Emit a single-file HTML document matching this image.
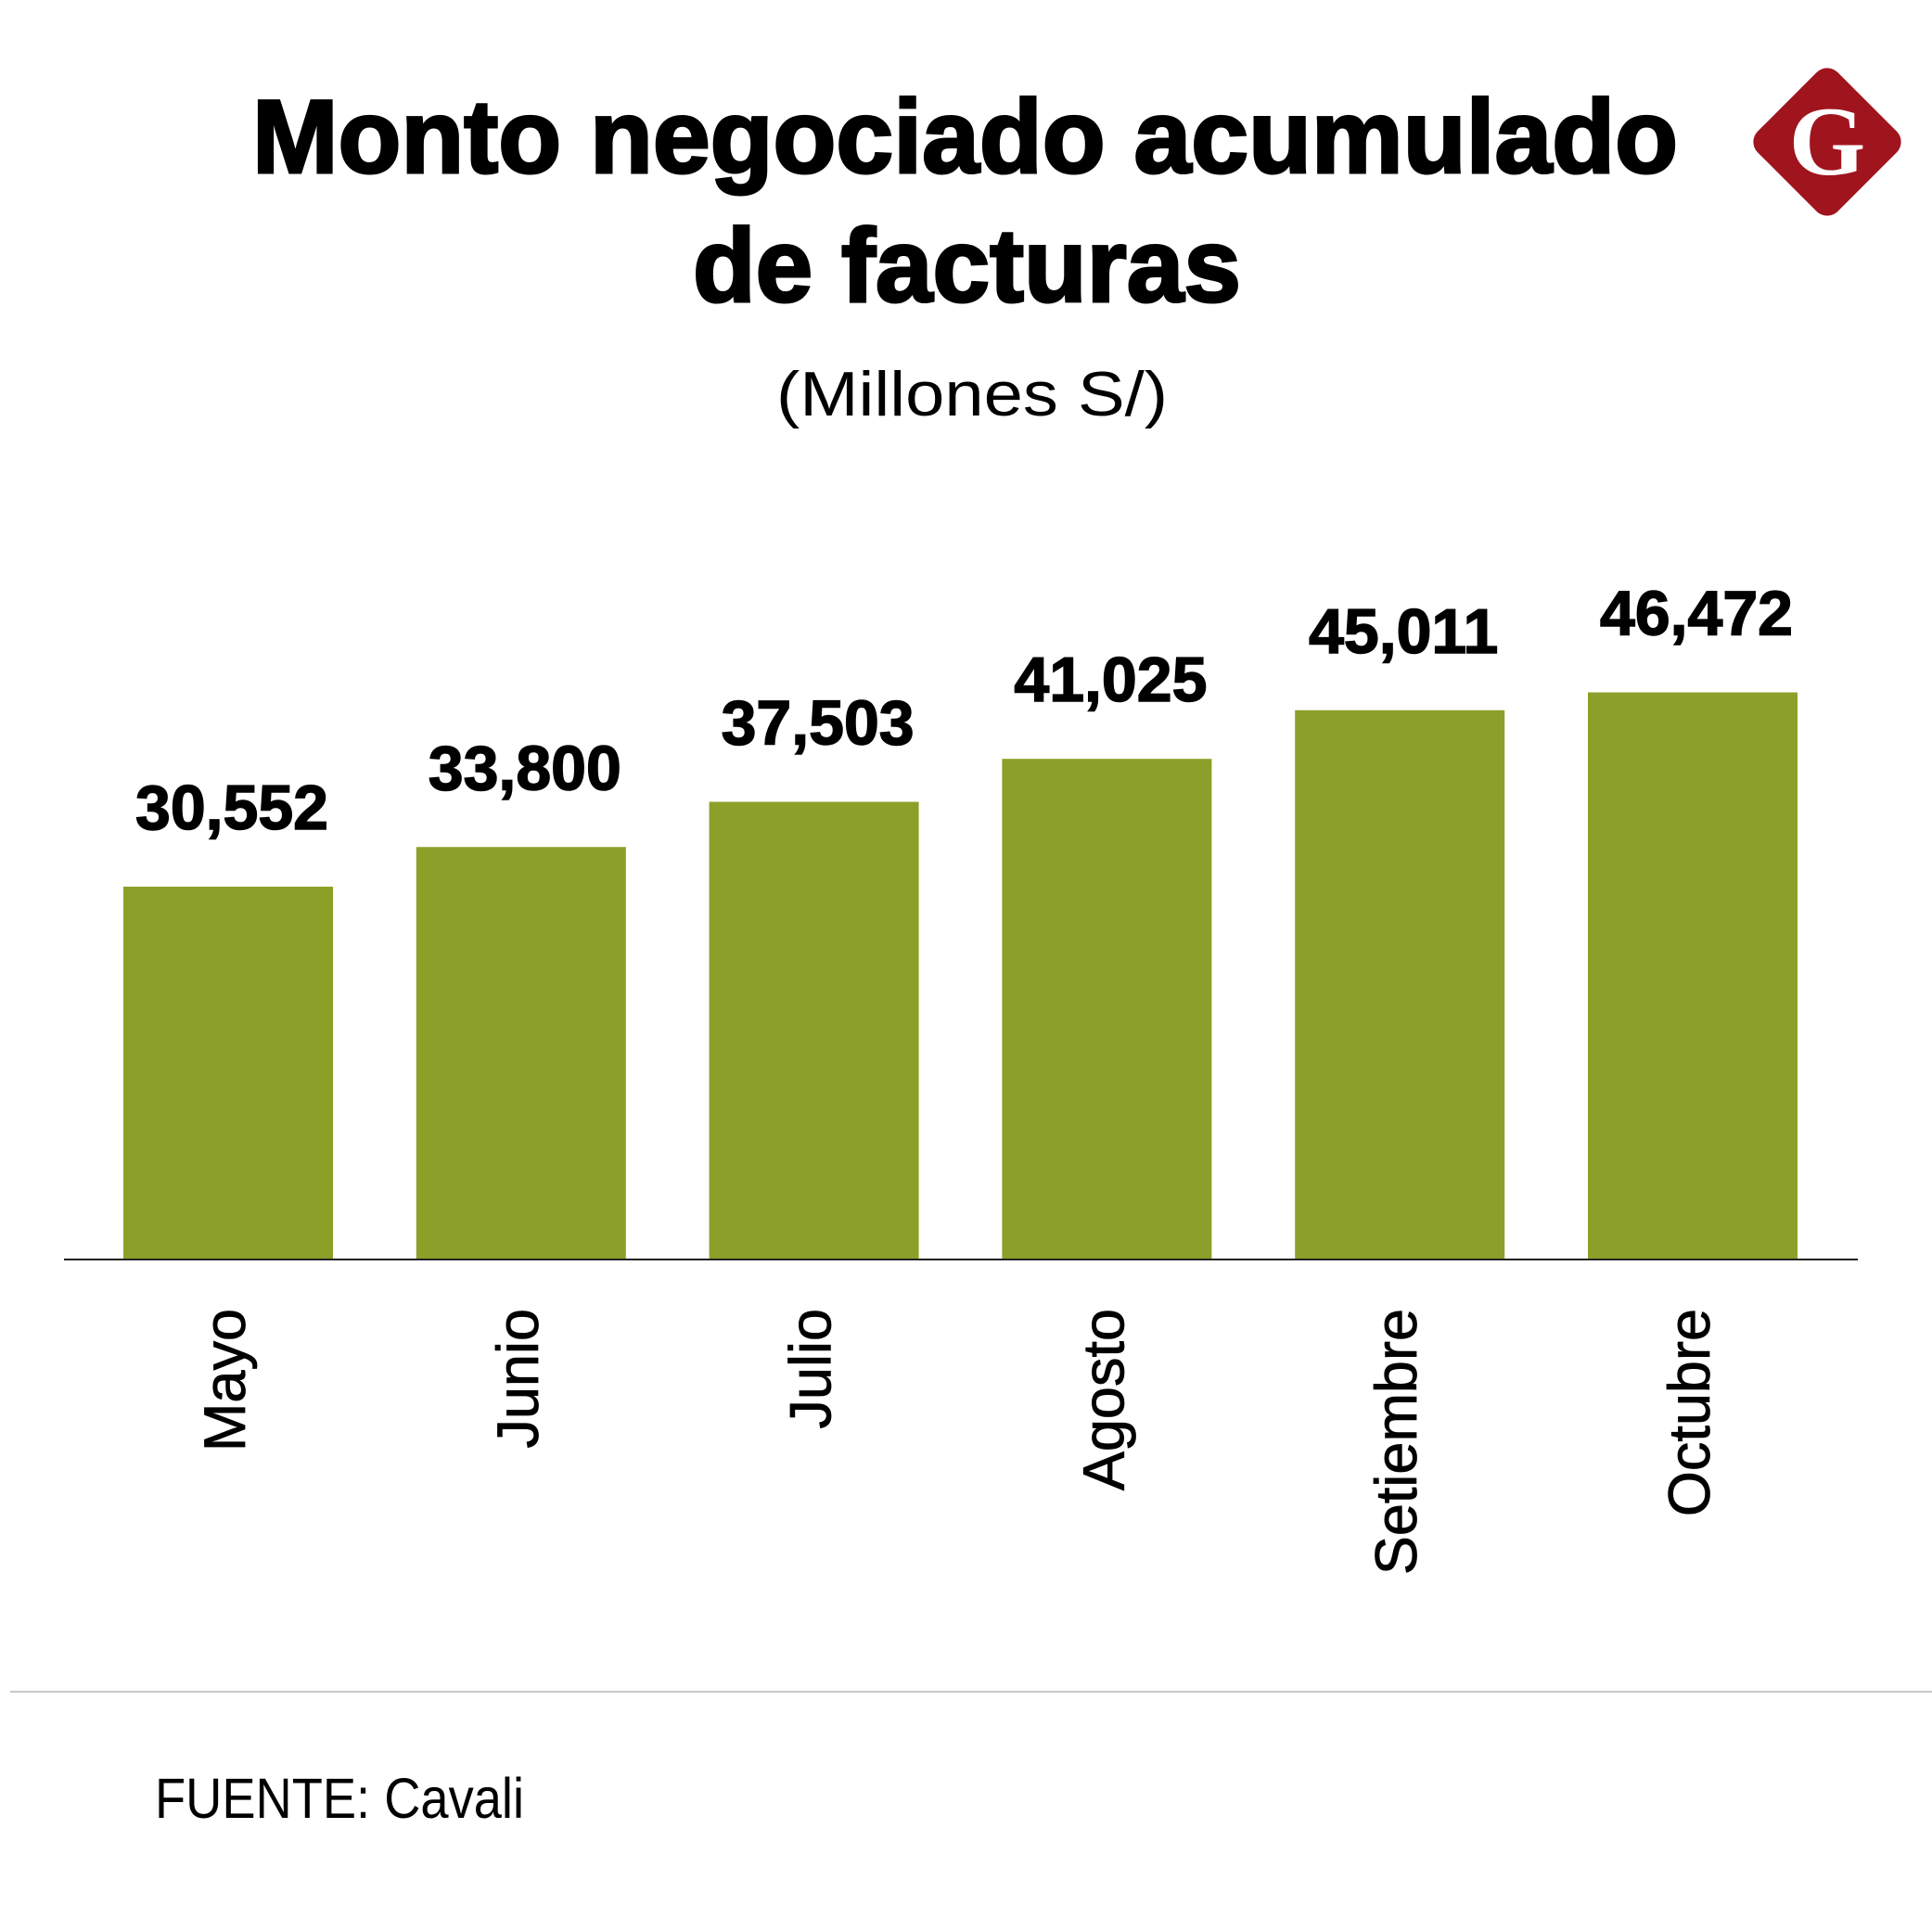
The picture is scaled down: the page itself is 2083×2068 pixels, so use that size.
<!DOCTYPE html>
<html><head><meta charset="utf-8"><style>
html,body{margin:0;padding:0;background:#fff;}
svg{display:block;}
</style></head><body>
<svg id="chart" width="2083" height="2068" viewBox="0 0 2083 2068" xmlns="http://www.w3.org/2000/svg" font-family="'Liberation Sans', sans-serif">
<rect width="2083" height="2068" fill="#fff"/>
<text x="272" y="186" font-size="112" font-weight="900" fill="#000" stroke="#000" stroke-width="3" textLength="1537" lengthAdjust="spacingAndGlyphs">Monto negociado acumulado</text>
<text x="747" y="325" font-size="112" font-weight="900" fill="#000" stroke="#000" stroke-width="3" textLength="591" lengthAdjust="spacingAndGlyphs">de facturas</text>
<text x="837" y="448" font-size="68" fill="#000" textLength="422" lengthAdjust="spacingAndGlyphs">(Millones S/)</text>
<g>
<rect x="1909" y="92" width="122" height="122" rx="16" fill="#a0141e" transform="rotate(45 1970 153)"/>
<text x="1970" y="188" text-anchor="middle" font-family="'Liberation Serif', serif" font-size="106" font-weight="bold" fill="#fff">G</text>
</g>
<g id="bars"></g>
<line x1="69" y1="1358" x2="2003" y2="1358" stroke="#222" stroke-width="2"/>
<line x1="11" y1="1824" x2="2083" y2="1824" stroke="#c8c8c8" stroke-width="2"/>
<text x="167" y="1960" font-size="61" fill="#000" textLength="398" lengthAdjust="spacingAndGlyphs">FUENTE: Cavali</text>
</svg>
<script>
const categories = ["Mayo","Junio","Julio","Agosto","Setiembre","Octubre"];
const values = [30552, 33800, 37503, 41025, 45011, 46472];
const valueLabels = ["30,552","33,800","37,503","41,025","45,011","46,472"];

const NS = "http://www.w3.org/2000/svg";
const baseY = 1358, pxPerUnit = 402/30552;
const x0 = 133, step = 315.8, barW = 226;
function xPos(i){ return x0 + i*step; }
function yPos(v){ return baseY - v*pxPerUnit; }
const g = document.getElementById('bars');
categories.forEach((c,i)=>{
  const x = xPos(i), y = yPos(values[i]);
  const r = document.createElementNS(NS,'rect');
  r.setAttribute('x', x); r.setAttribute('y', y);
  r.setAttribute('width', barW); r.setAttribute('height', baseY - y);
  r.setAttribute('fill', '#8ca029');
  
  
  g.appendChild(r);
  const t = document.createElementNS(NS,'text');
  t.setAttribute('x', x + barW/2 + 4); t.setAttribute('y', y - 62);
  t.setAttribute('text-anchor','middle');
  t.setAttribute('font-size','68'); t.setAttribute('font-weight','bold');
  t.setAttribute('stroke','#000'); t.setAttribute('stroke-width','1.5');
  t.setAttribute('fill','#000');
  t.textContent = valueLabels[i];
  
  
  g.appendChild(t);
  const m = document.createElementNS(NS,'text');
  const cx = x + barW/2 + 18;
  m.setAttribute('transform', 'translate(' + cx + ',1411) rotate(-90)');
  m.setAttribute('text-anchor','end');
  m.setAttribute('font-size','63');
  m.setAttribute('stroke','#000'); m.setAttribute('stroke-width','0.8');
  m.setAttribute('fill','#000');
  m.textContent = c;
  
  
  g.appendChild(m);
});
</script>
</body></html>
